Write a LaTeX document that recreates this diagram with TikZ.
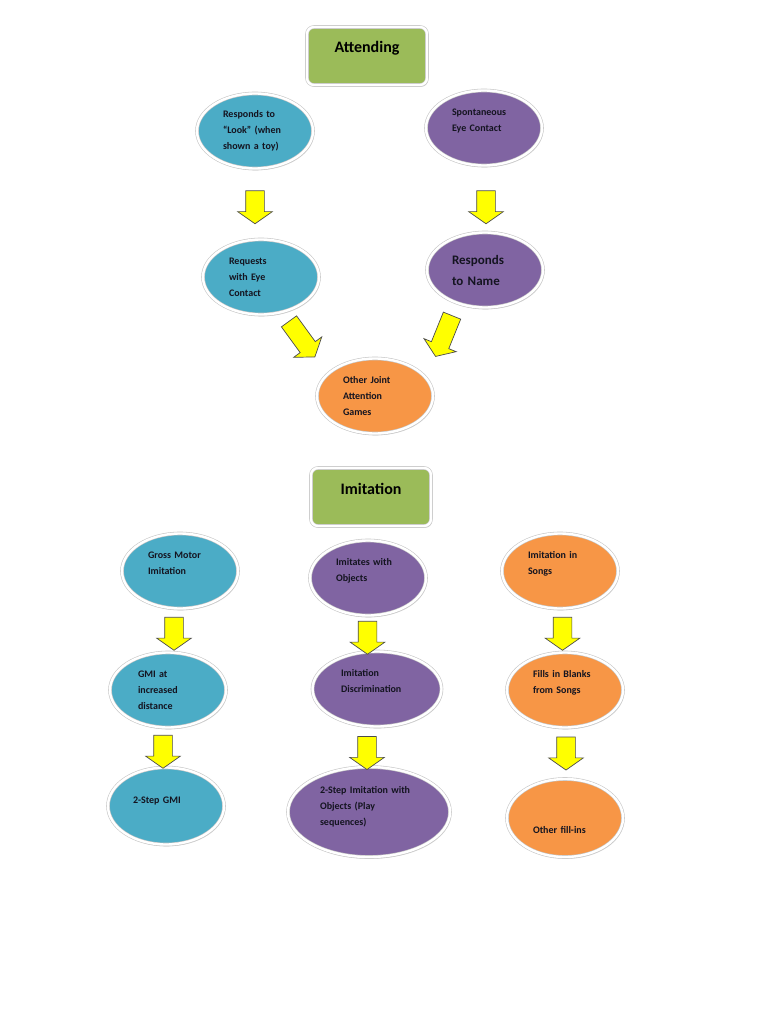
\documentclass[tikz,border=0pt]{standalone}
\usepackage{fontspec}
\setmainfont{Carlito}
\usetikzlibrary{shapes.geometric}
\usetikzlibrary{shapes.arrows}
\usetikzlibrary{shadows}
\usetikzlibrary{calc}
\definecolor{boxgreen}{HTML}{9BBB59}
\definecolor{bubteal}{HTML}{4BACC6}
\definecolor{bubpurple}{HTML}{8064A2}
\definecolor{buborange}{HTML}{F79646}
\definecolor{arrowyellow}{HTML}{FFFF00}
\definecolor{inktext}{HTML}{141420}
\tikzset{
rim/.style={
draw=black!22,
line width=.6pt,
double=white,
double distance=2.4pt,
drop shadow={shadow xshift=1.2pt, shadow yshift=-1.8pt, fill=black!30}},
bubble/.style={
rim,
ellipse,
inner sep=0pt,
minimum width=116pt,
minimum height=75pt,
text width=64pt,
align=left,
text=inktext,
font=\fontsize{10}{16}\selectfont\bfseries},
tealbub/.style={bubble, fill=bubteal},
purplebub/.style={bubble, fill=bubpurple},
orangebub/.style={bubble, fill=buborange},
topic/.style={
rim,
rectangle,
rounded corners=7pt,
minimum width=120pt,
inner xsep=0pt,
inner ysep=8pt,
text height=18pt,
text depth=24pt,
fill=boxgreen,
text=black,
font=\fontsize{16}{18}\selectfont\bfseries},
blockarrow/.style={
single arrow,
draw=black!70,
line width=.7pt,
fill=arrowyellow,
inner xsep=0pt,
inner ysep=9pt,
minimum width=0pt,
minimum height=33pt,
single arrow head extend=8pt,
single arrow tip angle=110}}

\begin{document}
\begin{tikzpicture}[x=1pt, y=-1pt]
\fill[white] (0,0) rectangle (768,1024);
\useasboundingbox (0,0) rectangle (768,1024);
\node[topic] (att) at (367,56) {Attending};
\node[tealbub] (look) at (255,131) {Responds to\\“Look” (when\\shown a toy)};
\node[purplebub] (spont) at (484,128) {Spontaneous\\Eye Contact\\\mbox{}};
\node[tealbub] (req) at (261,277) {Requests\\with Eye\\Contact};
\node[purplebub, text width=66pt, font=\fontsize{13}{21}\selectfont\bfseries] (name) at (485,270) {Responds\\to Name};
\node[orangebub] (oja) at (375,396) {Other Joint\\Attention\\Games};
\node[blockarrow, rotate=-90] (a1) at ($(look.south)!.5!(req.north)+(-3,0)$) {};
\node[blockarrow, rotate=-90] (a2) at ($(spont.south)!.5!(name.north)+(1.5,5)$) {};
\node[blockarrow, rotate=-54, minimum height=44pt] (a3) at ($(req.south)!.5!(oja.north)+(-18,0)$) {};
\node[blockarrow, rotate=-112, minimum height=44pt] (a4) at ($(name.south)!.5!(oja.north)+(15,0)$) {};

\node[topic] (imi) at (371,497) {Imitation};
\node[tealbub] (gross) at (180,571) {Gross Motor\\Imitation\\\mbox{}};
\node[purplebub] (imob) at (368,578) {Imitates with\\Objects\\\mbox{}};
\node[orangebub] (songs) at (560,571) {Imitation in\\Songs\\\mbox{}};
\node[tealbub, text width=60pt] (gmi) at (168,690) {GMI at\\increased\\distance};
\node[purplebub, text width=72pt, minimum width=129pt] (disc) at (377,689) {Imitation\\Discrimination\\\mbox{}};
\node[orangebub] (fills) at (565,690) {Fills in Blanks\\from Songs\\\mbox{}};
\node[tealbub, text width=66pt, minimum height=77pt] (gmi2) at (166,806) {2-Step GMI\\[-4pt]\mbox{}};
\node[purplebub, text width=98pt, minimum width=162pt, minimum height=90pt] (play) at (369,812) {2-Step Imitation with\\Objects (Play\\sequences)\\[-4pt]\mbox{}};
\node[orangebub, minimum height=78pt] (other) at (565,818) {\mbox{}\\[16pt]Other fill-ins};
\node[blockarrow, rotate=-90] (b1) at ($(gross.south)!.5!(gmi.north)$) {};
\node[blockarrow, rotate=-90] (b2) at ($(imob.south)!.5!(disc.north)+(-5,1)$) {};
\node[blockarrow, rotate=-90] (b3) at ($(songs.south)!.5!(fills.north)$) {};
\node[blockarrow, rotate=-90] (c1) at ($(gmi.south)!.5!(gmi2.north)+(-4,1)$) {};
\node[blockarrow, rotate=-90] (c2) at ($(disc.south)!.5!(play.north)+(-6,3)$) {};
\node[blockarrow, rotate=-90] (c3) at ($(fills.south)!.5!(other.north)+(1,-3)$) {};
\end{tikzpicture}
\end{document}
